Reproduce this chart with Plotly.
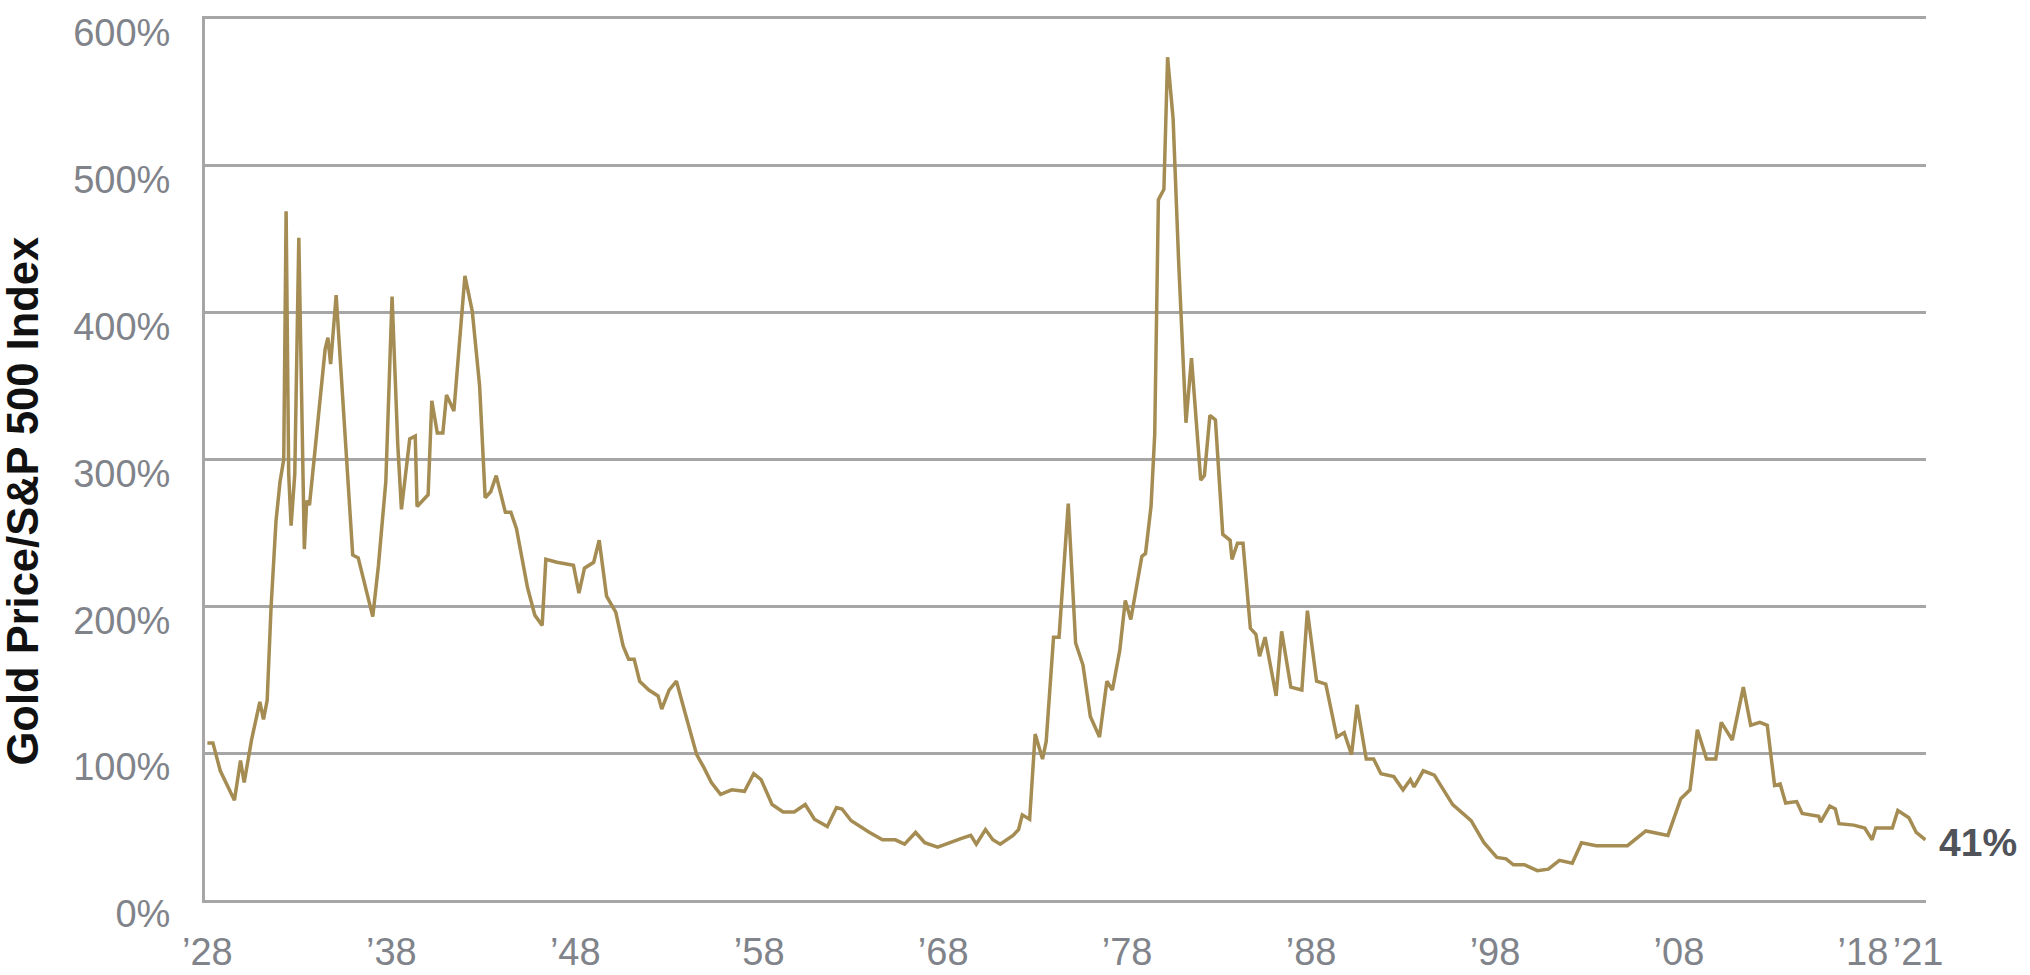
import plotly.graph_objects as go

# ---- data ----
years = [
    1928.0, 1928.3, 1928.7, 1929.0, 1929.47, 1929.8, 1930.0, 1930.4, 1930.85, 1931.05,
    1931.25, 1931.46, 1931.73, 1931.95, 1932.15, 1932.28, 1932.42, 1932.55, 1932.75, 1932.97,
    1933.27, 1933.4, 1933.55, 1933.8, 1934.1, 1934.4, 1934.55, 1934.7, 1935.0, 1935.35,
    1935.7, 1935.9, 1936.2, 1936.6, 1936.99, 1937.3, 1937.7, 1938.04, 1938.35, 1938.55,
    1939.0, 1939.3, 1939.4, 1940.0, 1940.2, 1940.5, 1940.8, 1941.0, 1941.4, 1942.0,
    1942.4, 1942.8, 1943.1, 1943.4, 1943.7, 1944.2, 1944.5, 1944.8, 1945.4, 1945.8,
    1946.2, 1946.4, 1947.0, 1947.9, 1948.2, 1948.5, 1949.0, 1949.3, 1949.7, 1950.2,
    1950.6, 1950.9, 1951.2, 1951.5, 1952.0, 1952.5, 1952.7, 1953.1, 1953.5, 1954.0,
    1954.6, 1955.0, 1955.4, 1955.9, 1956.5, 1957.2, 1957.7, 1958.1, 1958.7, 1959.3,
    1959.9, 1960.5, 1961.0, 1961.7, 1962.2, 1962.5, 1963.0, 1964.0, 1964.7, 1965.4,
    1965.9, 1966.5, 1967.0, 1967.7, 1968.3, 1969.0, 1969.5, 1969.8, 1970.3, 1970.7,
    1971.1, 1971.8, 1972.1, 1972.3, 1972.7, 1973.0, 1973.4, 1973.6, 1974.0, 1974.3,
    1974.8, 1975.2, 1975.6, 1976.0, 1976.5, 1976.9, 1977.2, 1977.6, 1977.9, 1978.2,
    1978.8, 1979.0, 1979.3, 1979.5, 1979.7, 1980.0, 1980.2, 1980.5, 1980.8, 1981.2,
    1981.5, 1982.0, 1982.2, 1982.5, 1982.8, 1983.2, 1983.6, 1983.7, 1984.0, 1984.3,
    1984.7, 1985.0, 1985.2, 1985.5, 1986.1, 1986.4, 1986.9, 1987.5, 1987.8, 1988.3,
    1988.8, 1989.4, 1989.8, 1990.2, 1990.5, 1991.0, 1991.4, 1991.8, 1992.5, 1993.0,
    1993.4, 1993.6, 1994.1, 1994.7, 1995.2, 1995.7, 1996.7, 1997.4, 1998.1, 1998.6,
    1999.0, 1999.6, 2000.3, 2000.9, 2001.5, 2002.2, 2002.7, 2003.5, 2004.3, 2005.2,
    2006.2, 2006.9, 2007.4, 2008.1, 2008.6, 2009.0, 2009.5, 2010.0, 2010.3, 2010.9,
    2011.5, 2011.9, 2012.4, 2012.8, 2013.2, 2013.5, 2013.8, 2014.4, 2014.7, 2015.6,
    2015.7, 2016.2, 2016.5, 2016.7, 2017.5, 2018.1, 2018.5, 2018.7, 2019.6, 2019.9,
    2020.5, 2020.9, 2021.4,
]
ratio = [
    107, 107, 88, 80, 68, 95, 80, 109, 135, 123,
    136, 199, 258, 285, 300, 469, 290, 255, 290, 451,
    239, 272, 269, 300, 335, 375, 383, 365, 412, 340,
    273, 235, 233, 213, 193, 228, 285, 411, 310, 266,
    314, 316, 268, 276, 340, 318, 318, 344, 333, 425,
    401, 350, 274, 278, 289, 264, 264, 253, 213, 194,
    187, 232, 230, 228, 209, 226, 230, 245, 207, 196,
    173, 164, 164, 149, 143, 139, 130, 143, 149, 126,
    99, 90, 80, 72, 75, 74, 86, 82, 65, 60,
    60, 65, 55, 50, 63, 62, 54, 46, 41, 41,
    38, 46, 39, 36, 39, 42, 44, 38, 48, 41,
    38, 44, 48, 58, 55, 113, 96, 108, 179, 179,
    270, 175, 160, 125, 111, 149, 143, 170, 204, 191,
    234, 236, 268, 317, 477, 484, 574, 532, 435, 325,
    369, 286, 289, 330, 327, 249, 245, 232, 243, 243,
    185, 181, 166, 179, 139, 183, 145, 143, 197, 149,
    147, 111, 114, 99, 133, 96, 96, 86, 84, 75,
    82, 77, 88, 85, 75, 65, 54, 39, 29, 28,
    24, 24, 20, 21, 27, 25, 39, 37, 37, 37,
    47, 45, 44, 69, 75, 116, 96, 96, 121, 109,
    145, 119, 121, 119, 78, 79, 66, 67, 59, 57,
    53, 64, 62, 52, 51, 49, 41, 49, 49, 61,
    56, 46, 41,
]
x_tick_years = [1928, 1938, 1948, 1958, 1968, 1978, 1988, 1998, 2008, 2018, 2021]
x_tick_text = ["\u201928", "\u201938", "\u201948", "\u201958", "\u201968", "\u201978",
               "\u201988", "\u201998", "\u201908", "\u201918", "\u201921"]
y_tick_vals = [0, 100, 200, 300, 400, 500, 600]
y_tick_text = ["0%", "100%", "200%", "300%", "400%", "500%", "600%"]
y_title = "Gold Price/S&P 500 Index"
end_label = "41%"

# ---- styling ----
GOLD = "#a48c52"
GRID = "#a6a6a6"
TICK = "#80838a"
FONT = "Liberation Sans, Arial, sans-serif"

fig = go.Figure()
fig.add_trace(go.Scatter(
    x=years, y=ratio, mode="lines",
    line=dict(color=GOLD, width=3.5),
    hoverinfo="skip", showlegend=False,
))

fig.update_layout(
    width=2030, height=975,
    margin=dict(l=205, r=104, t=19, b=75, autoexpand=False),
    paper_bgcolor="white", plot_bgcolor="white",
    showlegend=False,
    xaxis=dict(
        range=[1927.87, 2021.43],
        tickvals=x_tick_years, ticktext=x_tick_text,
        showgrid=False, zeroline=False,
        showline=True, mirror=True, linecolor=GRID, linewidth=3,
        ticks="", tickangle=0, ticklabelstandoff=16,
        ticklabeloverflow="allow", automargin=False,
        tickfont=dict(family=FONT, size=38, color=TICK),
    ),
    yaxis=dict(
        range=[0, 600],
        tickvals=y_tick_vals, ticktext=y_tick_text,
        showgrid=True, gridcolor=GRID, gridwidth=3,
        zeroline=False,
        showline=True, linecolor=GRID, linewidth=3,
        ticks="", ticklabelstandoff=24, ticklabelshift=14,
        ticklabeloverflow="allow", automargin=False,
        tickfont=dict(family=FONT, size=38, color=TICK),
    ),
)

fig.add_annotation(
    text=f"<b>{y_title}</b>", textangle=-90,
    xref="paper", yref="paper", x=0, y=0.5,
    xanchor="center", yanchor="middle", xshift=-183, yshift=-42,
    showarrow=False, font=dict(family=FONT, size=43.5, color="#111111"),
)
fig.add_annotation(
    text=f"<b>{end_label}</b>",
    x=years[-1], y=ratio[-1], xref="x", yref="y",
    xanchor="left", yanchor="middle", xshift=12, yshift=-3,
    showarrow=False, font=dict(family=FONT, size=39, color="#50535a"),
)

fig.write_html(
    "out.html",
    config={"displayModeBar": False},
    post_script="document.body.style.margin='0';document.body.style.overflow='hidden';",
)
